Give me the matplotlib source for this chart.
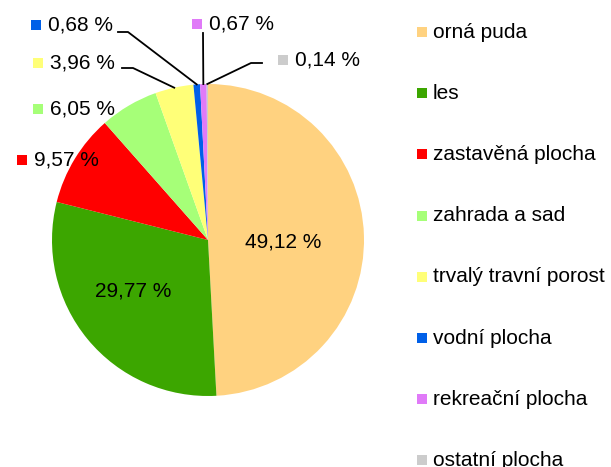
import numpy as np
import matplotlib
matplotlib.use("Agg")
from matplotlib import pyplot as plt
from matplotlib.patches import Rectangle

plt.rcParams['font.family'] = ['Liberation Sans', 'DejaVu Sans']

# data
categories = ['orná puda', 'les', 'zastavěná plocha', 'zahrada a sad',
              'trvalý travní porost', 'vodní plocha', 'rekreační plocha',
              'ostatní plocha']
shares = [49.12, 29.77, 9.57, 6.05, 3.96, 0.68, 0.67, 0.14]
colors = ['#FFD280', '#3CA600', '#FF0000', '#A6FF78', '#FFFF78',
          '#0060E8', '#E07AF8', '#CCCCCC']

W, H = 611, 467
fig = plt.figure(figsize=(W/100, H/100), dpi=100)
ax = fig.add_axes([0, 0, 1, 1])

def py(y):
    # pixel y (from top) -> data y
    return H - y

cx, cy, r = 208, py(240), 156
fs = 15

wedges, _ = ax.pie(shares, colors=colors, startangle=90, counterclock=False,
                   center=(cx, cy), radius=r, frame=True)
ax.set_xlim(0, W)
ax.set_ylim(0, H)
ax.set_aspect('equal')
ax.axis('off')

def lbl(v):
    return f"{v:.2f}".replace('.', ',') + ' %'

# inside labels
ax.text(283, py(242), lbl(shares[0]), fontsize=fs, ha='center', va='center')
ax.text(133, py(291), lbl(shares[1]), fontsize=fs, ha='center', va='center')

# outside labels: (marker x, text center y, elbow points in pixels)
outside = {
    2: (17, 160, None),
    3: (33, 109, None),
    4: (33, 63, [(122, 68), (133, 68)]),
    5: (31, 25, [(118, 32), (128, 32)]),
    6: (192, 24, [(203, 33)]),
    7: (278, 60, [(262, 63), (251, 63)]),
}
total = sum(shares)
cum = np.cumsum([0] + shares)
for i, (mx, ty, elbow) in outside.items():
    ax.add_patch(Rectangle((mx, py(ty) - 5), 10, 10, color=colors[i], lw=0))
    ax.text(mx + 17, py(ty), lbl(shares[i]), fontsize=fs, ha='left', va='center')
    if elbow:
        mid = (cum[i] + shares[i] / 2) / total * 2 * np.pi
        ex = cx + r * np.sin(mid)
        ey = cy + r * np.cos(mid)
        xs = [p[0] for p in elbow] + [ex]
        ys = [py(p[1]) for p in elbow] + [ey]
        ax.plot(xs, ys, color='black', lw=1.3)

# legend
for i, name in enumerate(categories):
    ly = 32 + i * 61.2
    ax.add_patch(Rectangle((417, py(ly) - 5), 10, 10, color=colors[i], lw=0))
    ax.text(433, py(ly), name, fontsize=fs, ha='left', va='center')

fig.savefig('out.png', dpi=100)
